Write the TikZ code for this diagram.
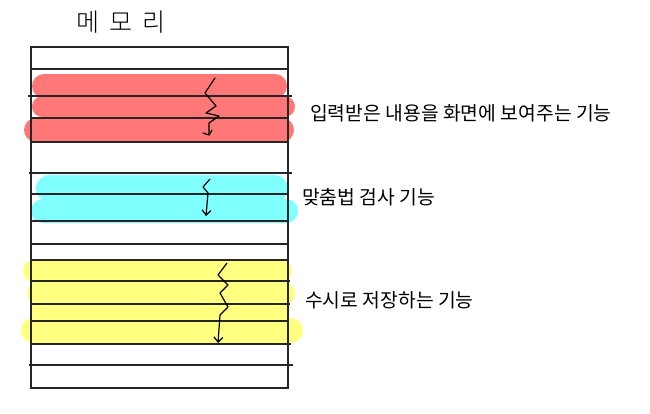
\documentclass[tikz,border=0pt]{standalone}
\usepackage{fontspec}
\newfontfamily\kr{Noto Sans CJK KR}
\newfontfamily\krl{Noto Sans CJK KR Light}
\usetikzlibrary{arrows.meta}
\definecolor{bandred}{HTML}{FF7777}
\definecolor{bandcyan}{HTML}{80FFFF}
\definecolor{bandyellow}{HTML}{FFFF80}
\tikzset{
  memline/.style={line width=1.4pt, black!85},
  band/.style={line cap=round},
  zig/.style={line width=1.2pt, black, line join=round, -{Straight Barb[length=5pt,width=9pt,line width=1.2pt]}},
  label/.style={anchor=west, inner sep=0pt, font=\kr\fontsize{19.3}{22}\selectfont}
}
\begin{document}
\begin{tikzpicture}[x=1pt,y=-1pt]
\useasboundingbox (0,0) rectangle (650,414);
% title
\node[inner sep=0pt, font=\krl\fontsize{25}{28}\selectfont] (title) at (121,22) {메\hspace{10pt}모\hspace{10pt}리};
% bands red
\draw[band, bandred, line width=24pt] (44,86) -- (275,86);
\draw[band, bandred, line width=21pt] (42.5,107) -- (284.5,107);
\draw[band, bandred, line width=24pt] (36,130) -- (282,130);
% bands cyan
\draw[band, bandcyan, line width=27pt] (49.5,188.5) -- (274.5,188.5);
\draw[band, bandcyan, line width=24pt] (43,211) -- (286,211);
% bands yellow
\draw[band, bandyellow, line width=24pt] (35,271) -- (280,271);
\draw[band, bandyellow, line width=23pt] (38.5,293.5) -- (283.5,293.5);
\fill[bandyellow] (31,304) rectangle (288,321);
\draw[band, bandyellow, line width=25pt] (33.5,330.5) -- (290.5,330.5);
% memory box
\draw[memline] (31,47) rectangle (288,388);
\foreach \y/\a/\b in {69/31/287, 96/28/292, 118/30/289, 142/31/288, 173/29/292, 194/31/287, 221/31/288, 244/31/288, 260/31/287, 281/31/290, 304/31/290, 321/31/287, 344/31/291, 365/29/293}
  \draw[memline] (\a,\y) -- (\b,\y);
% arrows
\draw[line width=1.2pt, line join=round, line cap=round] (215,78) -- (205,93) -- (216,106) -- (206,113) -- (219,116) -- (209,123) -- (209,135) -- (203,133);
\draw[line width=1.2pt] (209,135) -- (212,130);
\draw[zig] (210,179) -- (203,187) -- (208,193) -- (206,216);
\draw[zig] (227,263) -- (218,275) -- (228,285) -- (220,293) -- (228,307) -- (220,315) -- (218,343);
% labels
\node[label] (l1) at (310,113) {입력받은 내용을 화면에 보여주는 기능};
\node[label] (l2) at (302,197) {맞춤법 검사 기능};
\node[label] (l3) at (305,300) {수시로 저장하는 기능};
\end{tikzpicture}
\end{document}
